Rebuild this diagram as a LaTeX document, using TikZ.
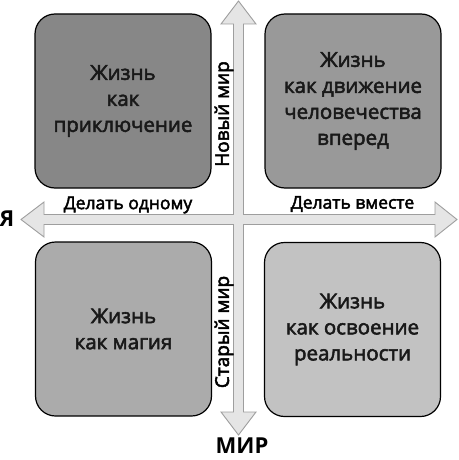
\documentclass[tikz,border=0pt]{standalone}
\usepackage{fontspec}
\setmainfont{Open Sans}
\newfontfamily\sbfont{Open Sans}[FakeBold=2.6]
\begin{document}
\begin{tikzpicture}[x=1pt,y=-1pt,
  quad/.style={draw=black,line width=1.2pt,rounded corners=20pt,minimum width=176pt,minimum height=174pt,inner sep=0pt,align=center,font=\sbfont\fontsize{20.5}{26}\selectfont,text=black!90},
  axlabel/.style={inner sep=0pt,font=\sbfont\fontsize{17.5}{20}\selectfont,text=black},
  vlabel/.style={axlabel,rotate=90,font=\sbfont\fontsize{19}{20}\selectfont},
  pole/.style={inner sep=0pt,font=\fontsize{22}{24}\selectfont\bfseries,text=black}]
\useasboundingbox (0,0) rectangle (458,460);
\def\cx{238.5}\def\cy{219.5}\def\h{5}\def\H{17.5}
\coordinate (c) at (\cx,\cy);
\draw[draw=black!38,fill=black!10,line width=0.9pt,line join=miter]
  (\cx,1) -- (\cx+\H,24) -- (\cx+\h,24) -- (\cx+\h,\cy-\h) -- (435,\cy-\h) -- (435,\cy-\H)
  -- (457,\cy) -- (435,\cy+\H) -- (435,\cy+\h) -- (\cx+\h,\cy+\h) -- (\cx+\h,412) -- (\cx+\H,412)
  -- (\cx,435) -- (\cx-\H,412) -- (\cx-\h,412) -- (\cx-\h,\cy+\h) -- (44,\cy+\h) -- (44,\cy+\H)
  -- (21,\cy) -- (44,\cy-\H) -- (44,\cy-\h) -- (\cx-\h,\cy-\h) -- (\cx-\h,24) -- (\cx-\H,24) -- cycle;
\node[quad,fill=black!47] (tl) at (123,101) {Жизнь\\как\\приключение};
\node[quad,fill=black!40] (tr) at (353,101) {Жизнь\\как движение\\человечества\\вперед};
\node[quad,fill=black!33] (bl) at (123.5,329) {Жизнь\\как магия};
\node[quad,fill=black!24] (br) at (352.5,329.5) {Жизнь\\как освоение\\реальности};
\node[axlabel] (l1) at (128,205) {Делать одному};
\node[axlabel] (l2) at (352.5,204) {Делать вместе};
\node[vlabel] (l3) at (224,114) {Новый мир};
\node[vlabel] (l4) at (224,332) {Старый мир};
\node[pole] (ya) at (7,219) {Я};
\node[pole] (mir) at (242,446) {МИР};
\end{tikzpicture}
\end{document}
